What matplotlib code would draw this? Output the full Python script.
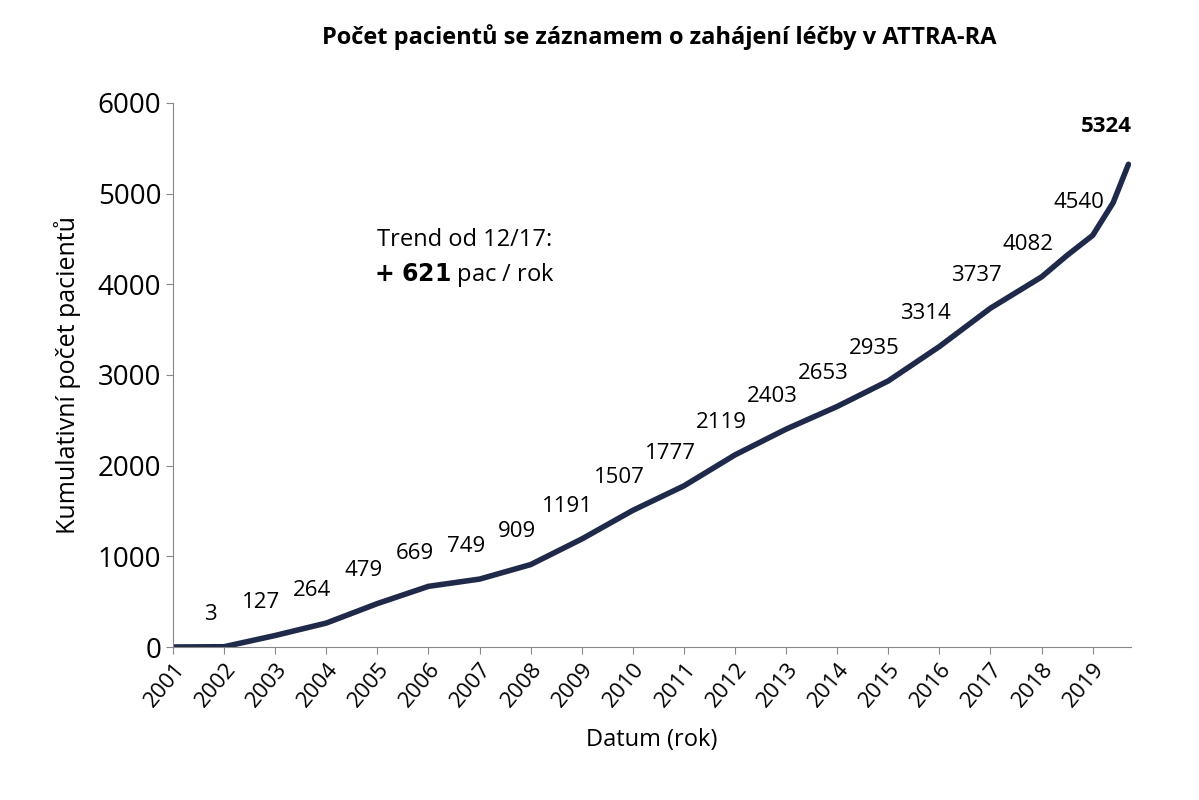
import matplotlib
matplotlib.use("Agg")
import matplotlib.pyplot as plt

years = [2001, 2002, 2003, 2004, 2005, 2006, 2007, 2008, 2009, 2010, 2011, 2012,
         2013, 2014, 2015, 2016, 2017, 2018, 2018.5, 2019, 2019.4, 2019.7]
values = [0, 3, 127, 264, 479, 669, 749, 909, 1191, 1507, 1777, 2119,
          2403, 2653, 2935, 3314, 3737, 4082, 4320, 4540, 4900, 5324]
labels = ["3", "127", "264", "479", "669", "749", "909", "1191", "1507", "1777", "2119",
          "2403", "2653", "2935", "3314", "3737", "4082", "4540"]
label_years = [2002, 2003, 2004, 2005, 2006, 2007, 2008, 2009, 2010, 2011, 2012,
               2013, 2014, 2015, 2016, 2017, 2018, 2019]
label_vals = [3, 127, 264, 479, 669, 749, 909, 1191, 1507, 1777, 2119,
              2403, 2653, 2935, 3314, 3737, 4082, 4540]

plt.rcParams['font.family'] = ['Open Sans', 'DejaVu Sans']
fig = plt.figure(figsize=(11.99, 8.0), dpi=100)
ax = fig.add_axes([173/1199, 1-647/800, (1131-173)/1199, (647-103)/800])
ax.plot(years, values, color='#1f2a4a', lw=4, solid_capstyle='round')
for x, v, t in zip(label_years, label_vals, labels):
    ax.annotate(t, (x, v), xytext=(-10, 16), textcoords='offset points',
                ha='center', va='bottom', fontsize=16)
ax.annotate("5324", (years[-1], values[-1]), xytext=(-16, 20), textcoords='offset points',
            ha='center', va='bottom', fontsize=16, fontweight='bold')
ax.text(2006.7, 4490, "Trend od 12/17:", ha='center', va='center', fontsize=17)
ax.text(2006.7, 4100, r"$\bf{+\ 621}$ pac / rok", ha='center', va='center', fontsize=17)
ax.set_xlim(2001, 2019.75)
ax.set_ylim(0, 6000)
ax.set_xticks(range(2001, 2020))
ax.set_xticklabels([str(y) for y in range(2001, 2020)], rotation=50, ha='right',
                   rotation_mode='anchor', fontsize=16)
ax.set_yticks(range(0, 6001, 1000))
ax.tick_params(axis='y', labelsize=20, length=5, color='#888888')
ax.tick_params(axis='x', length=5, color='#888888')
for s in ['top', 'right']:
    ax.spines[s].set_visible(False)
for s in ['left', 'bottom']:
    ax.spines[s].set_color('#888888')
ax.set_xlabel("Datum (rok)", fontsize=17, labelpad=12)
ax.set_ylabel("Kumulativní počet pacientů", fontsize=18, labelpad=12)
fig.suptitle("Počet pacientů se záznamem o zahájení léčby v ATTRA-RA", x=0.55, y=0.97,
             fontsize=17, fontweight='bold')
fig.savefig("out.png", dpi=100)
